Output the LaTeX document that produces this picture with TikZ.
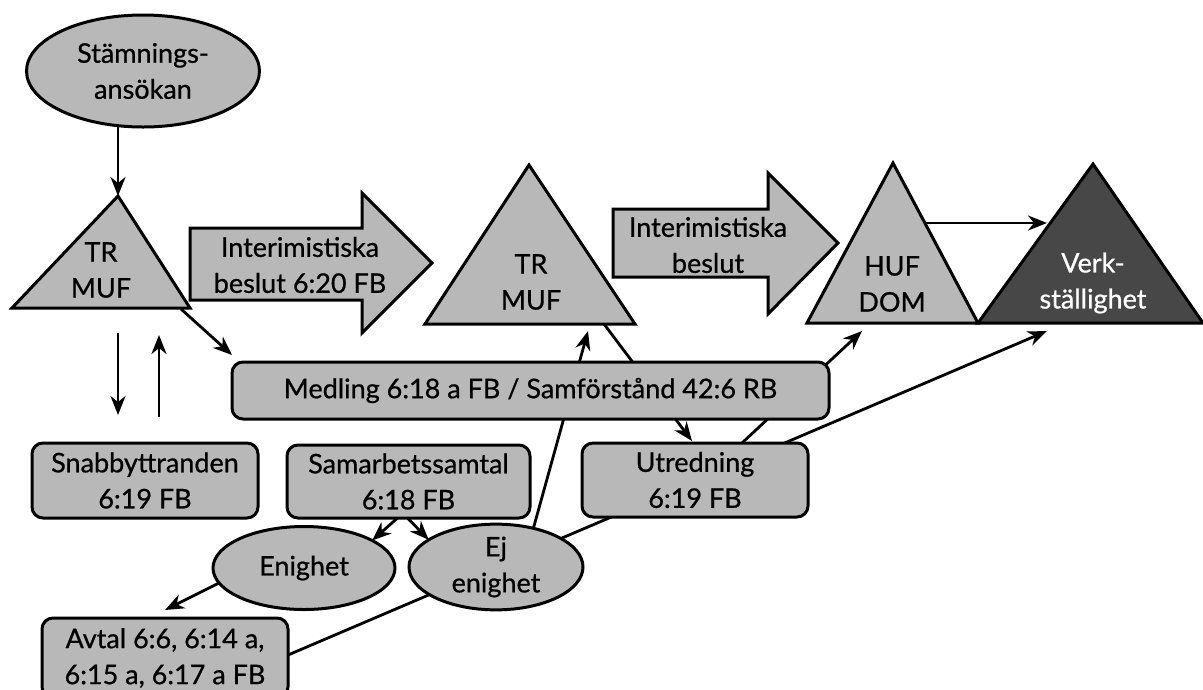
\documentclass[tikz,border=0pt]{standalone}
\usepackage{fontspec}
\setmainfont{Lato}[FakeBold=0.7]
\usetikzlibrary{shapes.geometric,arrows.meta}
\pgfdeclarelayer{back}
\pgfdeclarelayer{bg}
\pgfsetlayers{back,bg,main}
\begin{document}
\begin{tikzpicture}[x=1pt,y=-1pt,
  every node/.style={font=\fontsize{27}{36}\selectfont, align=center, inner sep=0pt, outer sep=0pt},
  shp/.style={draw=black, line width=3pt, fill=black!28},
  darkshp/.style={draw=black, line width=3pt, fill=black!72},
  rbox/.style={shp, rectangle, rounded corners=11pt},
  oval/.style={shp, ellipse},
  arr/.style={line width=2.8pt, -{Stealth[length=19pt,width=15pt,inset=6pt]}}]
\useasboundingbox (0,0) rectangle (1203,689);
\begin{pgfonlayer}{back}
\fill[white] (0,0) rectangle (1203,689);
\end{pgfonlayer}
\begin{scope}
\clip (0,0) rectangle (1203,689);

% triangles
\draw[shp, line join=miter] (12,308) -- (118,196) -- (190,308) -- cycle;
\draw[shp, line join=miter] (425,324) -- (529,165) -- (635,324) -- cycle;
\draw[shp, line join=miter] (807,323) -- (893,163) -- (978,323) -- cycle;
\draw[darkshp, line join=miter] (978,323) -- (1093,164) -- (1203,323) -- cycle;

\node (t1) at (101,270) {TR\\MUF};
\node (t2) at (531,282) {TR\\MUF};
\node (t3) at (892,284) {HUF\\DOM};
\node[text=white] (t4) at (1093,283) {Verk-\\ställighet};

% block arrows
\draw[shp, line join=miter] (190,228) -- (362,228) -- (362,193) -- (432,263) -- (362,333) -- (362,300) -- (190,300) -- cycle;
\node (ia1) at (300,265) {Interimistiska\\beslut 6:20 FB};
\draw[shp, line join=miter] (613,209) -- (768,209) -- (768,173) -- (838,243) -- (768,314) -- (768,277) -- (613,277) -- cycle;
\node (ia2) at (708,245) {Interimistiska\\beslut};

% ellipses
\node[oval, minimum width=233pt, minimum height=112pt] (stam) at (143,71) {Stämnings-\\ansökan};
\node[oval, minimum width=182pt, minimum height=83pt] (enighet) at (304,568) {Enighet};
\node[oval, minimum width=174pt, minimum height=80pt] (ejen) at (496,567) {Ej\\enighet};

% boxes
\node[rbox, minimum width=597pt, minimum height=57pt] (medling) at (530.5,390.5) {Medling 6:18 a FB / Samförstånd 42:6 RB};
\node[rbox, minimum width=226pt, minimum height=75pt] (snabb) at (145,480.5) {Snabbyttranden\\6:19 FB};
\node[rbox, minimum width=243pt, minimum height=73pt] (samarb) at (408.5,481.5) {Samarbetssamtal\\6:18 FB};
\node[rbox, minimum width=226pt, minimum height=74pt] (utred) at (695,480) {Utredning\\6:19 FB};
\node[rbox, minimum width=246pt, minimum height=80pt] (avtal) at (165,658) {Avtal 6:6, 6:14 a,\\6:15 a, 6:17 a FB};

% connector coordinates on triangles
\coordinate (t1a) at (118,196);
\coordinate (t1s) at (181,309);
\coordinate (t1d) at (118,308);
\coordinate (t1u) at (159,308);
\coordinate (t2in) at (588,331);
\coordinate (t2out) at (604,324);
\coordinate (t3in) at (862,331);
\coordinate (t3r) at (925,223);
\coordinate (t4l) at (1047,223);
\coordinate (t4in) at (1047,331);

\begin{pgfonlayer}{bg}
\draw[arr] (stam.south -| t1a) -- (t1a);
\draw[arr] (t1s) -- ([yshift=7pt]medling.north west);
\draw[arr, shorten <=25pt, shorten >=28pt] (t1d) -- (t1d |- snabb.north);
\draw[arr, shorten <=26pt, shorten >=27pt] (t1u |- snabb.north) -- (t1u);
\draw[arr] ([xshift=-11pt]samarb.south) -- (enighet.22);
\draw[arr] ([xshift=-1pt]samarb.south) -- (ejen.158);
\draw[arr] (enighet.190) -- ([yshift=8pt]avtal.north);
\draw[arr] ([yshift=3pt]avtal.east) -- (t4in);
\draw[arr] (ejen.46) -- (t2in);
\draw[arr] (t2out) -- ([xshift=-3pt,yshift=2pt]utred.north);
\draw[arr] ([xshift=47pt]utred.north) -- (t3in);
\draw[arr] (t3r) -- (t4l);
\end{pgfonlayer}
\end{scope}
\end{tikzpicture}
\end{document}
